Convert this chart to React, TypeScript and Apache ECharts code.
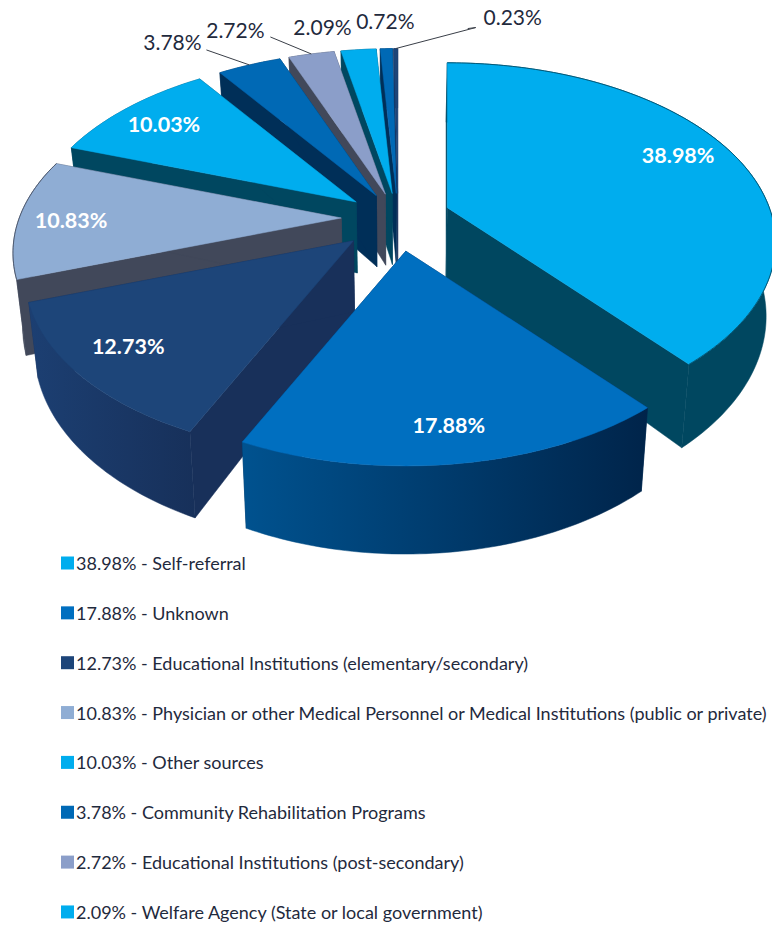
import React, { useEffect, useRef } from "react";
import * as echarts from "echarts";

// Values, in the order the pie runs clockwise from twelve o'clock
const values = [38.98, 17.88, 12.73, 10.83, 10.03, 3.78, 2.72, 2.09, 0.72, 0.23];
const categories = [
  "Self-referral",
  "Unknown",
  "Educational Institutions (elementary/secondary)",
  "Physician or other Medical Personnel or Medical Institutions (public or private)",
  "Other sources",
  "Community Rehabilitation Programs",
  "Educational Institutions (post-secondary)",
  "Welfare Agency (State or local government)",
];
const topColors = ["#00ADEE", "#006FC0", "#1D4579", "#8FADD4", "#00ADEE", "#0069B5", "#8B9EC9", "#00ADEE", "#0069B5", "#1D4579"];
const sideColors = ["#004760", "#002F58", "#18305A", "#41485A", "#004760", "#002F58", "#41485A", "#004760", "#002F58", "#18305A"];
const rimLeftColors = ["#004760", "#00528F", "#1C3F72", "#41485A", "#004760", "#002F58", "#41485A", "#004760", "#002F58", "#18305A"];
const rimRightColors = ["#004760", "#00244A", "#17305A", "#41485A", "#004760", "#002F58", "#41485A", "#004760", "#002F58", "#18305A"];
// Labels outside the pie: offset of the text from the rim at the slice's middle, and leader line offsets
const outerLabels: Record<number, { dx: number; dy: number; leader: number[] | null }> = {
  5: { dx: -77, dy: -23, leader: [-43, -15] },
  6: { dx: -76, dy: -24, leader: [-41, -17] },
  7: { dx: -36, dy: -23, leader: null },
  8: { dx: -1, dy: -28, leader: null },
  9: { dx: 117, dy: -32, leader: [80, -21, 72, -20] },
};
// Small layout corrections, by slice: apex and inner label
const apexNudge: Record<number, number[]> = { 0: [1, -1], 1: [-1, -3], 2: [2, 0], 3: [-2, 0], 4: [-3, 0] };
const labelNudge: Record<number, number[]> = { 0: [-5, -7], 1: [0, -3], 2: [2, -6], 3: [-3, 2], 4: [-3, 0] };
const outlinedRims = [0, 3];
const drawOrder = [9, 8, 7, 6, 5, 4, 3, 2, 0, 1];

// Perspective projection of the pie
const CX = 398, CY = 218, RX = 322, RY = 173, PERSP = 0.1945, EXPLODE = 0.17, DEPTH = 71, CONVERGE = 0.025;
const FONT = "Lato";

const total = values.reduce((a, b) => a + b, 0);
const rad = (d: number) => (d * Math.PI) / 180;
const scaleAt = (t: number) => 1 / (1 + PERSP * Math.cos(rad(t)));
const proj = (t: number, r = 1) => {
  const p = scaleAt(t);
  return [RX * Math.sin(rad(t)) * p * r, -RY * Math.cos(rad(t)) * p * r];
};
const lower = (pt: number[], depth: number) => [pt[0] + (CX - pt[0]) * CONVERGE, pt[1] + depth];

function sliceGroup(i: number) {
  const before = values.slice(0, i).reduce((a, b) => a + b, 0);
  const t0 = (before / total) * 360;
  const t1 = ((before + values[i]) / total) * 360;
  const mid = (t0 + t1) / 2;
  const ex = proj(mid, EXPLODE);
  const nudge = apexNudge[i] || [0, 0];
  const apex = [CX + ex[0] + nudge[0], CY + ex[1] + nudge[1]];
  const rim: number[][] = [];
  const rimLow: number[][] = [];
  const n = Math.max(2, Math.ceil(t1 - t0));
  for (let k = 0; k <= n; k++) {
    const t = t0 + ((t1 - t0) * k) / n;
    const o = proj(t);
    const pt = [apex[0] + o[0], apex[1] + o[1]];
    rim.push(pt);
    rimLow.push(lower(pt, DEPTH * scaleAt(t)));
  }
  const apexLow = lower(apex, DEPTH);
  const poly = (points: number[][], fill: any) => ({ type: "polygon", shape: { points }, style: { fill, stroke: fill, lineWidth: 0.5 } });
  const children: any[] = [
    poly([apex, rim[0], rimLow[0], apexLow], sideColors[i]),
    poly([apex, rim[n], rimLow[n], apexLow], sideColors[i]),
    poly(
      [...rim, ...rimLow.slice().reverse()],
      new echarts.graphic.LinearGradient(0, 0, 1, 0, [
        { offset: 0, color: rimLeftColors[i] },
        { offset: 1, color: rimRightColors[i] },
      ])
    ),
    poly([apex, ...rim], topColors[i]),
  ];
  if (outlinedRims.includes(i)) {
    children.push({ type: "polyline", shape: { points: rim }, style: { stroke: sideColors[i], lineWidth: 1, fill: "none", opacity: 0.8 } });
  }
  const text = `${values[i].toFixed(2)}%`;
  const mo = proj(mid);
  const outer = outerLabels[i];
  if (outer) {
    const rx = apex[0] + mo[0];
    const ry = apex[1] + mo[1];
    if (outer.leader) {
      const pts = [[rx, ry]];
      for (let k = 0; k < outer.leader.length; k += 2) pts.push([rx + outer.leader[k], ry + outer.leader[k + 1]]);
      children.push({ type: "polyline", shape: { points: pts }, style: { stroke: "#3A3F48", lineWidth: 1, fill: "none" } });
    }
    children.push({
      type: "text",
      style: { x: rx + outer.dx, y: ry + outer.dy, text, fill: "#1F2A3D", fontFamily: FONT, fontSize: 21, textAlign: "center", textVerticalAlign: "middle" },
    });
  } else {
    const lo = proj(mid, 0.83);
    const ln = labelNudge[i] || [0, 0];
    children.push({
      type: "text",
      style: { x: apex[0] + lo[0] + ln[0], y: apex[1] + lo[1] + ln[1], text, fill: "#FFFFFF", fontFamily: FONT, fontWeight: "bold", fontSize: 21.5, textAlign: "center", textVerticalAlign: "middle" },
    });
  }
  return { type: "group", children };
}

const seriesName = (i: number) => (categories[i] ? `${values[i].toFixed(2)}% - ${categories[i]}` : `${values[i].toFixed(2)}%`);

export default function App() {
  const ref = useRef<HTMLDivElement>(null);
  useEffect(() => {
    const chart = echarts.init(ref.current!, null, { renderer: "svg" });
    chart.setOption({
      animation: false,
      backgroundColor: "#FFFFFF",
      legend: {
        orient: "vertical",
        left: 56,
        top: 548,
        height: 375,
        itemWidth: 13,
        itemHeight: 13,
        itemGap: 29.85,
        selectedMode: false,
        icon: "rect",
        textStyle: { fontFamily: FONT, fontSize: 18, color: "#1F2A3D", lineHeight: 20, padding: [0, 0, 0, -3] },
        data: categories.map((_, i) => seriesName(i)),
      },
      series: drawOrder.map((i) => ({
        type: "custom",
        name: seriesName(i),
        coordinateSystem: "none",
        silent: true,
        itemStyle: { color: topColors[i] },
        data: [[values[i]]],
        renderItem: () => sliceGroup(i),
      })),
    });
    return () => chart.dispose();
  }, []);
  return <div ref={ref} style={{ position: "fixed", left: 0, top: 0, width: 772, height: 926 }} />;
}
